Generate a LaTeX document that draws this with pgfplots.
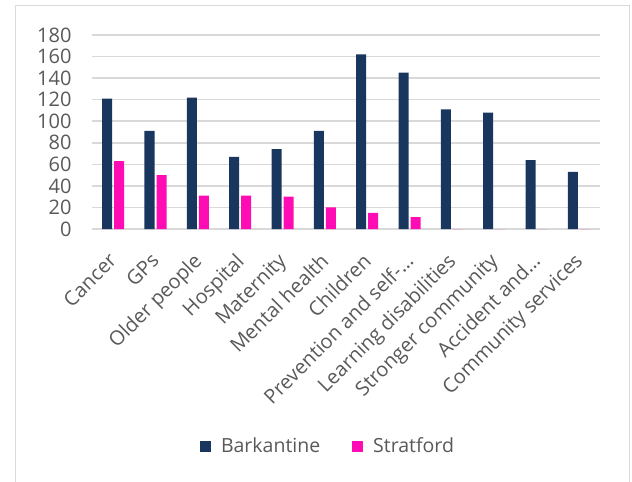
\documentclass[border=0pt]{standalone}
\usepackage{pgfplots}
\pgfplotsset{compat=1.18}
\usepackage{fontspec}
\setmainfont{Open Sans}

\definecolor{barkantine}{RGB}{25,55,94}
\definecolor{stratford}{RGB}{255,12,180}
\definecolor{gridgray}{RGB}{217,217,217}
\definecolor{labelgray}{RGB}{89,89,89}

\begin{document}
\begin{tikzpicture}[x=1pt,y=1pt]
  \path[use as bounding box, clip] (0,0) rectangle (632,482);
  % chart frame (bottom edge runs off the page)
  \draw[gridgray, line width=1pt] (15,-20) rectangle (629,476);
  \begin{axis}[
    at={(92pt,253pt)}, anchor=south west,
    scale only axis,
    width=508pt, height=194pt,
    ybar=2pt, bar width=10pt,
    xmin=-0.5, xmax=11.5,
    ymin=0, ymax=180,
    ytick={0,20,...,180},
    xtick=data,
    xticklabels={Cancer,GPs,Older people,Hospital,Maternity,Mental health,Children,Prevention and self-…,Learning disabilities,Stronger community,Accident and…,Community services},
    major tick length=0pt,
    axis x line*=bottom,
    axis y line*=left,
    y axis line style={draw=none},
    x axis line style={gridgray, line width=1.5pt, -},
    ymajorgrids,
    grid style={gridgray, line width=1.5pt},
    /pgf/number format/assume math mode=true,
    tick label style={font=\fontsize{20}{24}\selectfont, text=labelgray},
    yticklabel style={anchor=east, xshift=-17pt},
    xticklabel style={rotate=45, anchor=north east, inner sep=0pt, xshift=-20pt, yshift=-12pt},
    legend style={at={(rel axis cs:0.4646,-1.119)}, anchor=center, draw=none,
      legend columns=2, font=\fontsize{19.5}{23}\selectfont, text=labelgray,
      /tikz/every odd column/.append style={column sep=8pt},
      /tikz/every even column/.append style={column sep=30pt}},
    legend image code/.code={\fill[#1, draw=none] (0pt,-5.5pt) rectangle (11pt,5.5pt);},
    every axis plot/.append style={draw=none},
  ]
    \addplot[fill=barkantine] coordinates {
      (0,121) (1,91) (2,122) (3,67) (4,74) (5,91)
      (6,162) (7,145) (8,111) (9,108) (10,64) (11,53)};
    \addplot[fill=stratford] coordinates {
      (0,63) (1,50) (2,31) (3,31) (4,30) (5,20)
      (6,15) (7,11) (8,0) (9,0) (10,0) (11,0)};
    \legend{Barkantine, Stratford}
  \end{axis}
\end{tikzpicture}
\end{document}
